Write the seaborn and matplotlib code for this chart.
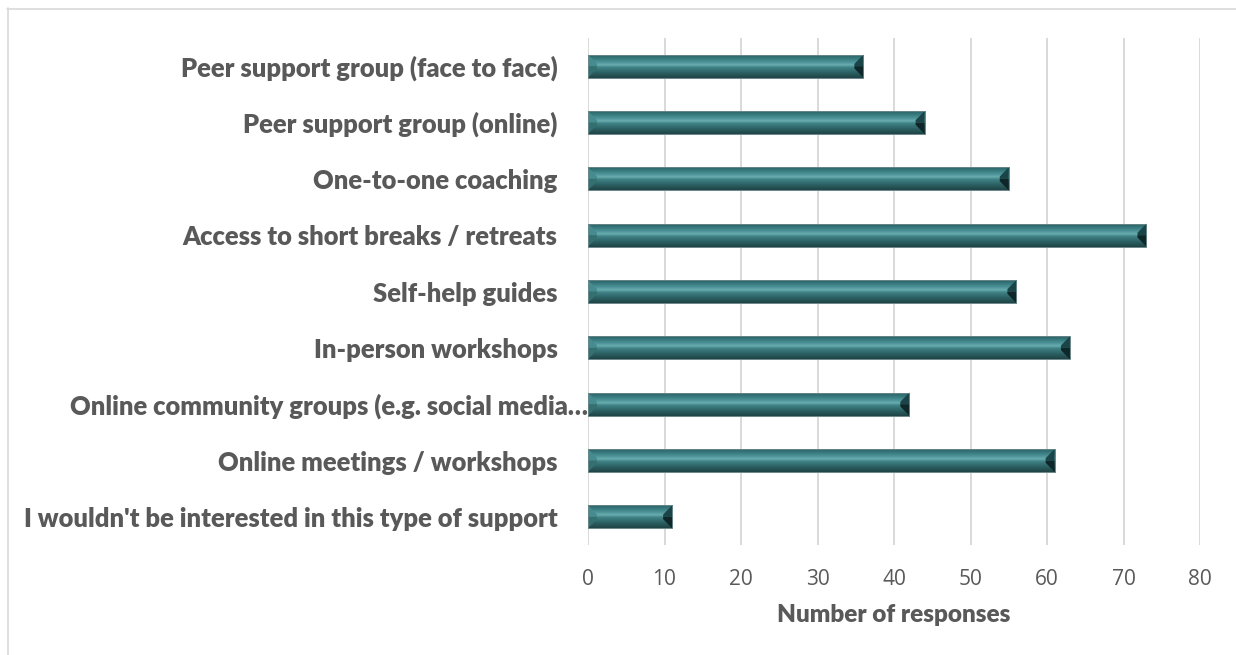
import numpy as np
import pandas as pd
import matplotlib
matplotlib.use("Agg")
import matplotlib.pyplot as plt
import matplotlib.transforms as mtransforms
from matplotlib.colors import LinearSegmentedColormap
from matplotlib.patches import Polygon
from matplotlib.lines import Line2D
import seaborn as sns

# Survey answers, listed top to bottom
options = [
    "Peer support group (face to face)",
    "Peer support group (online)",
    "One-to-one coaching",
    "Access to short breaks / retreats",
    "Self-help guides",
    "In-person workshops",
    "Online community groups (e.g. social media\u2026",
    "Online meetings / workshops",
    "I wouldn't be interested in this type of support",
]
responses = [36, 44, 55, 73, 56, 63, 42, 61, 11]
x_ticks = [0, 10, 20, 30, 40, 50, 60, 70, 80]
x_title = "Number of responses"

TEXT = "#595959"
GRID = "#d9d9d9"

sns.set_theme(style="white")
plt.rcParams["font.family"] = ["Lato", "DejaVu Sans"]

W, H = 1236, 655
fig = plt.figure(figsize=(W / 100, H / 100), dpi=100)
ax = fig.add_axes([588 / W, 1 - 545 / H, 612 / W, 507 / H])

df = pd.DataFrame({"option": options, "responses": responses})
sns.barplot(data=df, x="responses", y="option", orient="h", width=0.41,
            color="#3a7b7f", saturation=1, edgecolor="#6f898b",
            linewidth=0.6, ax=ax, zorder=2)

ax.set_xlim(x_ticks[0], x_ticks[-1])
ax.set_xticks(x_ticks)

# bevelled look: vertical shading plus lighter/darker end facets
shade = LinearSegmentedColormap.from_list("bar_shade", [
    (0.00, "#2a5d60"), (0.10, "#2e6d71"), (0.33, "#4b9296"),
    (0.45, "#6aadb0"), (0.56, "#3e8185"), (0.80, "#2b5e61"),
    (1.00, "#1f4446")])
grad = np.linspace(0, 1, 64).reshape(-1, 1)
d = 9 * (x_ticks[-1] - x_ticks[0]) / 612.0
for p in list(ax.patches):
    x0, y0 = p.get_x(), p.get_y()
    w, h = p.get_width(), p.get_height()
    x1, y1 = x0 + w, y0 + h
    ym = y0 + h / 2
    im = ax.imshow(grad, cmap=shade, aspect="auto", origin="upper",
                   extent=(x0, x1, y1, y0), zorder=2.5, interpolation="bilinear")
    im.set_clip_path(p)
    facets = [
        ([(x0, y0), (x0 + d, y0 + 0.4 * h), (x0 + d, ym), (x0, ym)], "#468b8f"),
        ([(x0, ym), (x0 + d, ym), (x0 + d, y0 + 0.6 * h), (x0, y1)], "#33706f"),
        ([(x1, y0), (x1 - d, y0 + 0.4 * h), (x1 - d, ym), (x1, ym)], "#1a4447"),
        ([(x1, ym), (x1 - d, ym), (x1 - d, y0 + 0.6 * h), (x1, y1)], "#0f2729"),
    ]
    for pts, c in facets:
        ax.add_patch(Polygon(pts, closed=True, facecolor=c, edgecolor="none", zorder=2.7))
    ax.add_patch(plt.Rectangle((x0, y0), w, h, fill=False, edgecolor="#6f898b",
                               linewidth=0.6, zorder=2.8))

ax.set_ylim(len(options) - 0.5, -0.5)

ax.grid(axis="x", color=GRID, linewidth=1.4)
ax.grid(axis="y", visible=False)
ax.set_axisbelow(True)
for s in ax.spines.values():
    s.set_visible(False)

ax.tick_params(axis="x", length=0, pad=17, labelsize=15, labelcolor=TEXT)
for lab in ax.get_xticklabels():
    lab.set_fontfamily(["Open Sans", "DejaVu Sans"])
ax.tick_params(axis="y", length=0, pad=22, labelsize=18.4, labelcolor=TEXT)
for lab in ax.get_yticklabels():
    lab.set_fontweight("heavy")
    if lab.get_text().endswith("\u2026"):
        lab.set_transform(lab.get_transform() +
                          mtransforms.ScaledTranslation(0.30, 0, fig.dpi_scale_trans))

ax.set_ylabel("")
ax.set_xlabel(x_title, fontsize=17.5, fontweight="heavy", color=TEXT)
ax.xaxis.label.set_verticalalignment("center")
ax.xaxis.set_label_coords(0.5, -0.138)

# light frame around the chart area
fig.add_artist(Line2D([7.5 / W, 7.5 / W], [0, 1 - 8 / H], color=GRID,
                      linewidth=1.2, transform=fig.transFigure))
fig.add_artist(Line2D([7 / W, 1], [1 - 8.5 / H, 1 - 8.5 / H], color=GRID,
                      linewidth=1.2, transform=fig.transFigure))

fig.savefig("out.png", dpi=100, facecolor="white")
